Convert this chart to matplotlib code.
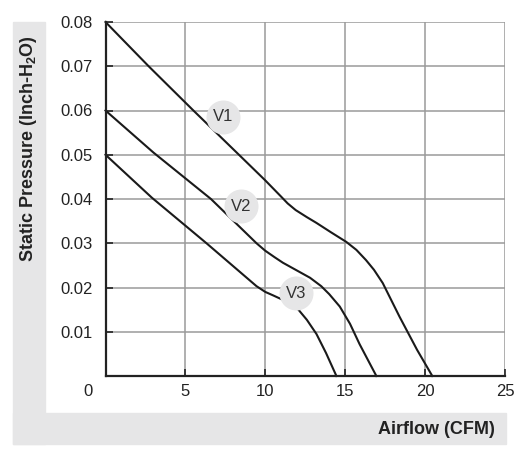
import matplotlib
matplotlib.use("Agg")
import matplotlib.pyplot as plt
from matplotlib.patches import Rectangle

plt.rcParams['font.family'] = ['Liberation Sans', 'DejaVu Sans']
plt.rcParams['mathtext.fontset'] = 'custom'
plt.rcParams['mathtext.rm'] = 'Liberation Sans:bold'
plt.rcParams['mathtext.bf'] = 'Liberation Sans:bold'

# ---- data ----
v1_x = [0, 2.7, 5.5, 8.35, 10.0, 11.0, 11.4, 11.9, 12.6, 13.2, 14.1, 15.07, 15.7, 16.3, 16.8, 17.35, 18.4, 19.5, 20.45]
v1_y = [0.08, 0.07, 0.06, 0.05, 0.0442, 0.0405, 0.0390, 0.0375, 0.0359, 0.0346, 0.0325, 0.0303, 0.0285, 0.0262, 0.0240, 0.0210, 0.0134, 0.0059, 0.0]

v2_x = [0, 3.0, 6.6, 9.45, 10.0, 10.6, 11.1, 12.0, 12.8, 13.5, 14.0, 14.66, 15.3, 15.9, 16.95]
v2_y = [0.06, 0.0505, 0.040, 0.030, 0.0283, 0.0268, 0.0256, 0.0238, 0.0222, 0.0203, 0.0185, 0.0157, 0.0118, 0.0072, 0.0]

v3_x = [0, 2.9, 6.32, 9.45, 10.0, 10.5, 11.1, 11.6, 12.0, 12.6, 13.2, 13.8, 14.45]
v3_y = [0.05, 0.0403, 0.030, 0.0203, 0.0190, 0.0182, 0.0172, 0.0163, 0.0153, 0.0127, 0.0095, 0.0052, 0.0]

series_names = ["V1", "V2", "V3"]
label_x = [7.33, 8.5, 11.95]
label_y = [0.0586, 0.0384, 0.0187]

x_ticks = [5, 10, 15, 20, 25]
y_ticks = [0.01, 0.02, 0.03, 0.04, 0.05, 0.06, 0.07, 0.08]
y_tick_labels = ["0.01", "0.02", "0.03", "0.04", "0.05", "0.06", "0.07", "0.08"]

W, H = 519, 459
fig = plt.figure(figsize=(W / 100, H / 100), dpi=100)

band = '#e6e6e7'
# gray label bands
fig.patches.append(Rectangle((13 / W, 1 - 444 / H), (45 - 13) / W, (444 - 22) / H,
                             transform=fig.transFigure, color=band, zorder=0))
fig.patches.append(Rectangle((13 / W, 1 - 444 / H), (506 - 13) / W, (444 - 413) / H,
                             transform=fig.transFigure, color=band, zorder=0))

ax = fig.add_axes([105.5 / W, 1 - 376 / H, (505 - 105.5) / W, (376 - 22) / H])
ax.set_xlim(0, 25)
ax.set_ylim(0, 0.08)

ax.set_xticks(x_ticks)
ax.set_yticks(y_ticks)
ax.set_yticklabels(y_tick_labels)
ax.grid(True, color='#9a9a9a', linewidth=1.1, zorder=1)
ax.set_axisbelow(True)

for s in ['top', 'right']:
    ax.spines[s].set_visible(False)
for s in ['left', 'bottom']:
    ax.spines[s].set_linewidth(1.6)
    ax.spines[s].set_color('#222222')
    ax.spines[s].set_zorder(5)

ax.tick_params(direction='in', length=5, width=1.2, color='#222222',
               labelsize=12, labelcolor='#222222')
ax.tick_params(axis='x', pad=6)
ax.tick_params(axis='y', pad=9)

for xs, ys in [(v1_x, v1_y), (v2_x, v2_y), (v3_x, v3_y)]:
    ax.plot(xs, ys, color='#1a1a1a', linewidth=1.5, zorder=3, clip_on=False,
            solid_joinstyle='round')

ax.scatter(label_x, label_y, s=600, color='#e6e6e7', zorder=4, linewidths=0)
for name, lx, ly in zip(series_names, label_x, label_y):
    ax.text(lx, ly, name, ha='center', va='center', fontsize=12,
            color='#333333', zorder=5)

# corner zero label
fig.text(88 / W, 1 - 391 / H, "0", ha='center', va='center', fontsize=12, color='#222222')

fig.text(495 / W, 1 - 429 / H, "Airflow (CFM)", ha='right', va='center',
         fontsize=13, fontweight='bold', color='#222222')
fig.text(29 / W, 1 - 149 / H, r"Static Pressure (Inch-H$_\mathbf{2}$O)", rotation=90,
         ha='center', va='center', fontsize=13, fontweight='bold', color='#222222')

fig.savefig("out.png", dpi=100)
